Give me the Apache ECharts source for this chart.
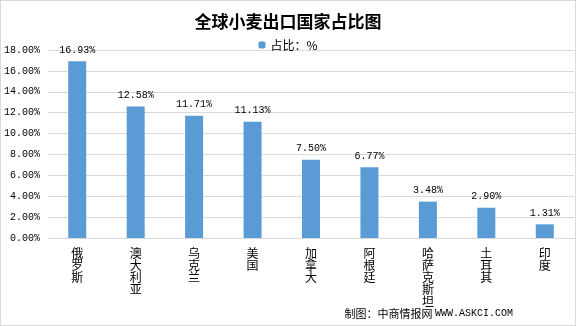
<!DOCTYPE html>
<html>
<head>
<meta charset="utf-8">
<script src="https://cdn.jsdelivr.net/npm/echarts@6/dist/echarts.min.js"></script>
<style>
  html, body { margin: 0; padding: 0; background: #fff; }
  #chart { width: 574px; height: 324px; border: 1px solid #d9d9d9; }
</style>
</head>
<body>
<div id="chart"></div>
<script>
const countries = ['俄罗斯', '澳大利亚', '乌克兰', '美国', '加拿大', '阿根廷', '哈萨克斯坦', '土耳其', '印度'];
const shares = [16.93, 12.58, 11.71, 11.13, 7.50, 6.77, 3.48, 2.90, 1.31];

const monoFont = '"Liberation Mono", "DejaVu Sans Mono", monospace';
const cjkFont = '"Noto Sans CJK SC", sans-serif';

const chart = echarts.init(document.getElementById('chart'));

const option = {
  animation: false,
  title: {
    text: '全球小麦出口国家占比图',
    left: 'center',
    top: 7,
    textStyle: { fontSize: 17, fontWeight: 'bold', color: '#000', fontFamily: cjkFont }
  },
  legend: {
    top: 33,
    left: 'center',
    itemWidth: 7,
    itemHeight: 7,
    itemGap: 3,
    data: ['占比：%'],
    textStyle: { fontSize: 12, color: '#000', fontFamily: cjkFont }
  },
  graphic: [{
    type: 'text',
    right: 62,
    bottom: 6,
    style: {
      rich: {
        c: { fontSize: 11, fontFamily: cjkFont, fill: '#000' },
        m: { fontSize: 10, fontFamily: monoFont, fill: '#000' }
      },
      text: '{c|制图：中商情报网 }{m|WWW.ASKCI.COM}'
    }
  }],
  grid: {
    left: 47,
    right: 1,
    top: 49,
    bottom: 87
  },
  xAxis: {
    type: 'category',
    data: countries,
    axisLine: { lineStyle: { color: '#d9d9d9' } },
    axisTick: { show: false },
    axisLabel: {
      interval: 0,
      margin: 9,
      color: '#000',
      fontSize: 12,
      lineHeight: 12,
      fontFamily: cjkFont,
      formatter: (v) => v.split('').join('\n')
    }
  },
  yAxis: {
    type: 'value',
    min: 0,
    max: 18,
    interval: 2,
    axisLine: { show: false },
    axisTick: { show: false },
    splitLine: { lineStyle: { color: '#d9d9d9' } },
    axisLabel: {
      color: '#000',
      fontSize: 10,
      margin: 8,
      fontFamily: monoFont,
      formatter: (v) => v.toFixed(2) + '%'
    }
  },
  series: [{
    name: '占比：%',
    type: 'bar',
    data: shares,
    barWidth: 18,
    itemStyle: { color: '#5b9bd5' },
    label: {
      show: true,
      position: 'top',
      distance: 6,
      color: '#000',
      fontSize: 10,
      fontFamily: monoFont,
      formatter: (p) => p.value.toFixed(2) + '%'
    }
  }]
};

chart.setOption(option);
</script>
</body>
</html>
